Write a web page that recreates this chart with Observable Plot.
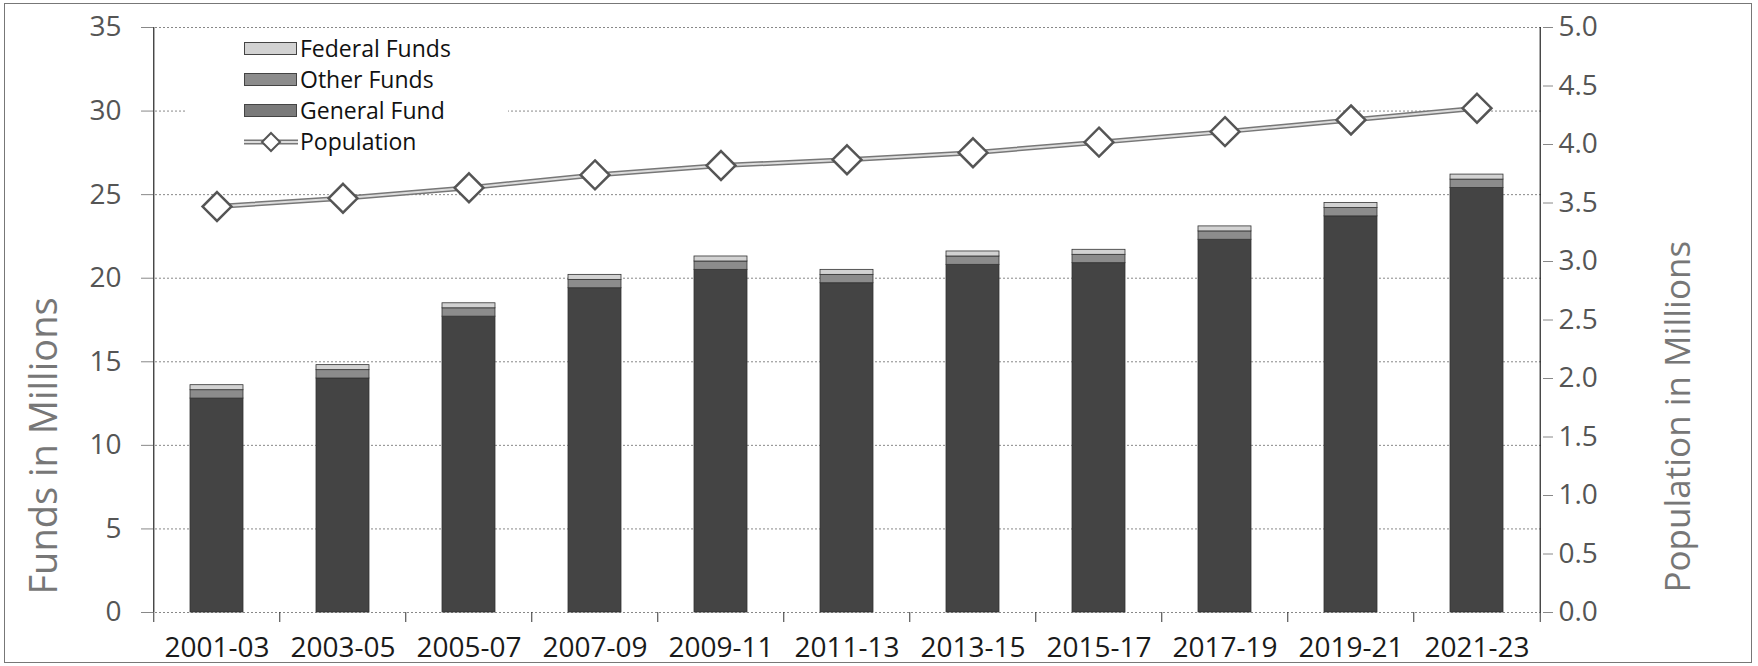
<!DOCTYPE html>
<html>
<head>
<meta charset="utf-8">
<script src="https://cdn.jsdelivr.net/npm/d3@7"></script>
<script src="https://cdn.jsdelivr.net/npm/@observablehq/plot@0.6"></script>
<style>
  html, body { margin: 0; padding: 0; background: white; }
  #wrap { position: relative; width: 1758px; height: 666px; font-family: "Open Sans", sans-serif; }
  #border { position: absolute; left: 4px; top: 3px; width: 1746px; height: 658px; border: 1.5px solid #777; pointer-events: none; }
  #legend { position: absolute; left: 186px; top: 31px; width: 322px; height: 124px; background: white; }
  .row { position: absolute; left: 0; height: 31px; display: flex; align-items: center; }
  .sw { position: absolute; left: 58px; width: 53px; height: 13px; box-sizing: border-box; border: 1px solid #444; }
  .lab { position: absolute; left: 114px; font-size: 23px; color: #111; white-space: nowrap; line-height: 31px; }
</style>
</head>
<body>
<div id="wrap">
  <div id="chart"></div>
  <div id="legend"></div>
  <div id="border"></div>
</div>
<script>
const categories = ["2001-03", "2003-05", "2005-07", "2007-09", "2009-11", "2011-13", "2013-15", "2015-17", "2017-19", "2019-21", "2021-23"];
const generalFund = [12.8, 14.0, 17.7, 19.4, 20.5, 19.7, 20.8, 20.9, 22.3, 23.7, 25.4];
const otherFunds = [0.5, 0.5, 0.5, 0.5, 0.5, 0.5, 0.5, 0.5, 0.5, 0.5, 0.5];
const federalFunds = [0.3, 0.3, 0.3, 0.3, 0.3, 0.3, 0.3, 0.3, 0.3, 0.3, 0.3];
const population = [3.47, 3.54, 3.63, 3.74, 3.82, 3.87, 3.93, 4.02, 4.11, 4.21, 4.31];
const fundTicks = [0, 5, 10, 15, 20, 25, 30, 35];
const popTicks = [0, 0.5, 1, 1.5, 2, 2.5, 3, 3.5, 4, 4.5, 5];
const seriesNames = ["General Fund", "Other Funds", "Federal Funds"];
const seriesColors = ["#444444", "#8c8c8c", "#d2d2d2"];
const legendNames = ["Federal Funds", "Other Funds", "General Fund", "Population"];

const fundMax = 35, popMax = 5, ratio = fundMax / popMax;

const rows = [];
categories.forEach((c, i) => {
  rows.push({category: c, series: "General Fund", value: generalFund[i]});
  rows.push({category: c, series: "Other Funds", value: otherFunds[i]});
  rows.push({category: c, series: "Federal Funds", value: federalFunds[i]});
});
const popRows = categories.map((c, i) => ({category: c, population: population[i]}));

const W = 1758, H = 666, mL = 151, mR = 216, mT = 27, mB = 54;
const step = (W - mL - mR) / categories.length;

const chart = Plot.plot({
  width: W, height: H,
  marginLeft: mL, marginRight: mR, marginTop: mT, marginBottom: mB,
  style: {fontFamily: "Open Sans", background: "transparent"},
  x: {domain: categories, paddingInner: 0.58, paddingOuter: 0.29, axis: null, label: null},
  y: {domain: [0, fundMax], axis: null, label: null},
  color: {domain: seriesNames, range: seriesColors},
  marks: [
    Plot.ruleY(fundTicks, {stroke: "#888", strokeDasharray: "2,2"}),
    Plot.barY(rows, {x: "category", y: "value", fill: "series", order: seriesNames, stroke: "#333", strokeWidth: 0.8}),
    Plot.line(popRows, {x: "category", y: d => d.population * ratio, stroke: "#777", strokeWidth: 5}),
    Plot.line(popRows, {x: "category", y: d => d.population * ratio, stroke: "#dcdcdc", strokeWidth: 2}),
    Plot.dot(popRows, {x: "category", y: d => d.population * ratio, symbol: "diamond2", r: 13, fill: "white", stroke: "#555", strokeWidth: 2.5}),
    // axis lines at the band edges
    Plot.ruleX([categories[0]], {dx: -step / 2, stroke: "#222", strokeWidth: 1.2}),
    Plot.ruleX([categories[categories.length - 1]], {dx: step / 2, stroke: "#222", strokeWidth: 1.2}),
    // category boundary ticks
    Plot.axisX(categories, {tickSize: 10, dx: -step / 2, tickFormat: () => "", stroke: "#333", label: null}),
    Plot.axisX([categories[categories.length - 1]], {tickSize: 10, dx: step / 2, tickFormat: () => "", stroke: "#333", label: null}),
    Plot.axisX({tickSize: 0, tickPadding: 25, fontSize: 28, fill: "#1a1a1a", label: null}),
    Plot.axisY({anchor: "left", ticks: fundTicks, tickSize: 10, tickPadding: 20, fontSize: 28, stroke: "#888", fill: "#555", label: null}),
    Plot.axisY({anchor: "right", ticks: popTicks.map(p => p * ratio), tickSize: 10, tickPadding: 6, fontSize: 28, stroke: "#888", fill: "#555", tickFormat: d => (d / ratio).toFixed(1), label: null}),
    Plot.text(["Funds in Millions"], {text: d => d, frameAnchor: "bottom-left", dx: -95, dy: -18, rotate: -90, textAnchor: "start", fontSize: 38, fill: "#777"}),
    Plot.text(["Population in Millions"], {text: d => d, frameAnchor: "bottom-right", dx: 147, dy: -20, rotate: -90, textAnchor: "start", fontSize: 35, fill: "#777"})
  ]
});
document.getElementById("chart").appendChild(chart);

// legend
const legend = document.getElementById("legend");
const legendColors = {"Federal Funds": seriesColors[2], "Other Funds": seriesColors[1], "General Fund": "#7a7a7a"};
legendNames.forEach((name, i) => {
  const row = document.createElement("div");
  row.className = "row";
  row.style.top = (2 + i * 31) + "px";
  if (name === "Population") {
    row.innerHTML = `<svg style="position:absolute;left:58px;top:5px" width="54" height="22">
      <line x1="0" y1="11" x2="54" y2="11" stroke="#777" stroke-width="5"/>
      <line x1="0" y1="11" x2="54" y2="11" stroke="#dcdcdc" stroke-width="2"/>
      <path d="M27,2 L36,11 L27,20 L18,11 Z" fill="white" stroke="#555" stroke-width="2"/></svg>`;
  } else {
    row.innerHTML = `<div class="sw" style="top:9px;background:${legendColors[name]}"></div>`;
  }
  row.innerHTML += `<div class="lab">${name}</div>`;
  legend.appendChild(row);
});
</script>
</body>
</html>
